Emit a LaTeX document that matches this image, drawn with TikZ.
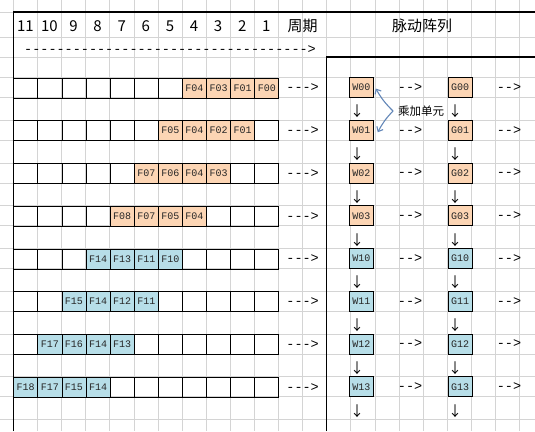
\documentclass[tikz,border=0pt]{standalone}
\usepackage{fontspec}
\setmonofont{Liberation Mono}
\newfontfamily\cjkfont{Noto Sans CJK SC}
\usetikzlibrary{arrows.meta, positioning}

\definecolor{gridgray}{RGB}{212,212,212}
\definecolor{fillorange}{RGB}{252,213,180}
\definecolor{fillblue}{RGB}{183,222,232}
\definecolor{linkblue}{RGB}{98,134,184}

\tikzset{
  cell/.style={draw, line width=0.8pt, minimum width=24.1pt, minimum height=20pt,
    inner sep=0pt, anchor=north west, text=black!85, font=\ttfamily\fontsize{10}{10}\selectfont},
  pe/.style={cell, anchor=center},
  flow/.style={inner sep=0pt, font=\ttfamily\fontsize{13.5}{13.5}\selectfont},
  headtext/.style={inner sep=0pt, font=\cjkfont\fontsize{15}{15}\selectfont},
  dropmark/.style={inner sep=0pt, font=\cjkfont\fontsize{14}{14}\selectfont},
  macarrow/.style={draw=linkblue, line width=1.1pt, -{Straight Barb[length=4pt,width=7pt]}},
}

\begin{document}
\begin{tikzpicture}[x=1pt, y=-1pt]
\useasboundingbox[fill=white] (0,0) rectangle (535,431);

% sheet grid
\foreach \k in {0,...,21}
  \draw[gridgray, line width=0.6pt] ({13.3+\k*24.1},0) -- ({13.3+\k*24.1},431);
\foreach \y in {12,37,57}
  \draw[gridgray, line width=0.6pt] (0,\y) -- (535,\y);
\foreach \k in {0,...,8} {
  \draw[gridgray, line width=0.6pt] (0,{77.5+\k*42.75}) -- (535,{77.5+\k*42.75});
  \draw[gridgray, line width=0.6pt] (0,{97.5+\k*42.75}) -- (535,{97.5+\k*42.75});
}

% cycle header
\foreach \n [count=\i] in {11,10,...,1}
  \node[headtext] (t\n) at ({13.3+(\i-0.5)*24.1},26) {\n};
\node[headtext] (cycle) at (302.5,26) {周期};
\node[headtext] (array) at (422,26) {脉动阵列};
\node[flow, anchor=west] (timeline) at (24,50) {----------------------------------->};

% input rows and the array
\foreach \idx/\startcol/\tint/\code/\fa/\fb/\fc/\fd in {
  1/8/fillorange/00/F04/F03/F01/F00,
  2/7/fillorange/01/F05/F04/F02/F01,
  3/6/fillorange/02/F07/F06/F04/F03,
  4/5/fillorange/03/F08/F07/F05/F04,
  5/4/fillblue/10/F14/F13/F11/F10,
  6/3/fillblue/11/F15/F14/F12/F11,
  7/2/fillblue/12/F17/F16/F14/F13,
  8/1/fillblue/13/F18/F17/F15/F14}
{
  \pgfmathsetmacro\rowy{77.5+(\idx-1)*42.75}
  \foreach \k in {1,...,11}
    \node[cell] (c\idx-\k) at ({13.3+(\k-1)*24.1},\rowy) {};
  \foreach \f [count=\j from 0] in {\fa,\fb,\fc,\fd}
    \node[cell, fill=\tint] (f\idx-\j) at ({13.3+(\startcol+\j-1)*24.1},\rowy) {\f};
  \node[flow, right=7pt of c\idx-11] (in\idx) {--->};

  \node[pe, fill=\tint] (w\idx) at (361.3,{\rowy+10}) {W\code};
  \node[flow, right=24pt of w\idx] (wout\idx) {-->};
  \node[pe, fill=\tint, right=74pt of w\idx] (g\idx) {G\code};
  \node[flow, right=24pt of g\idx] (gout\idx) {-->};
  \node[dropmark] (wd\idx) at (357,{\rowy+34}) {↓};
  \node[dropmark] (gd\idx) at (455,{\rowy+34}) {↓};
}

% frame
\draw[line width=1.2pt] (13.3,431) -- (13.3,12) -- (535,12);
\draw[line width=1.2pt] (326.6,431) -- (326.6,57) -- (535,57);

% multiply-add unit
\node[inner sep=0pt, anchor=west, font=\cjkfont\fontsize{11.5}{11.5}\selectfont] (mac) at (398,111) {乘加单元};
\draw[macarrow] ([xshift=-5pt]mac.west) to[bend left=8] ([xshift=2pt,yshift=-1pt]w1.east);
\draw[macarrow] ([xshift=-5pt]mac.west) to[bend right=8] ([xshift=4pt,yshift=-2pt]w2.east);
\end{tikzpicture}
\end{document}
